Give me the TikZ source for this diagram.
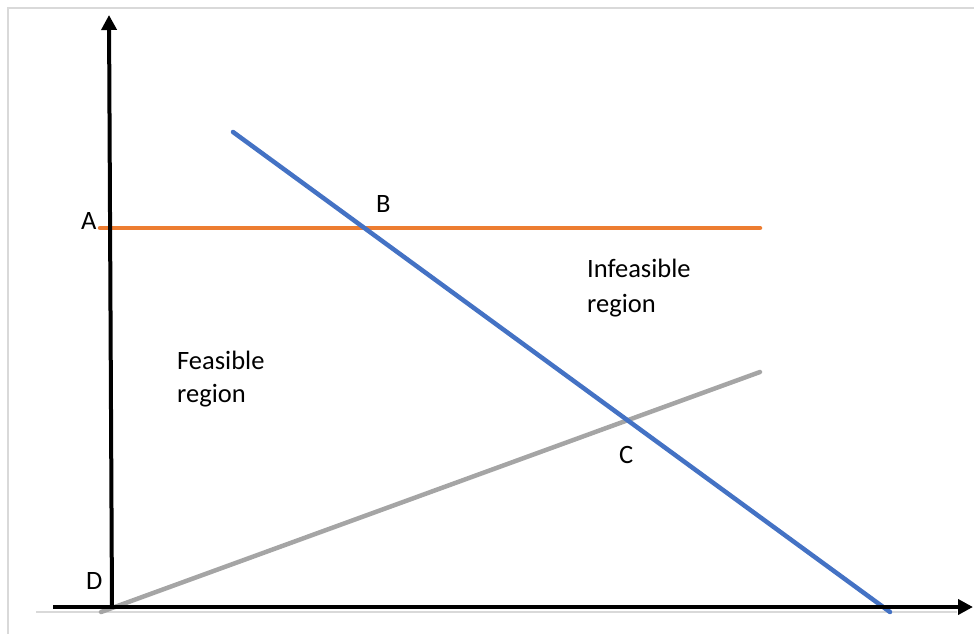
\documentclass[tikz,border=0pt]{standalone}
\usepackage{fontspec}
\setmainfont{Carlito}
\usetikzlibrary{arrows.meta}
\definecolor{frameg}{HTML}{D9D9D9}
\definecolor{lorange}{HTML}{ED7D31}
\definecolor{lblue}{HTML}{4472C4}
\definecolor{lgray}{HTML}{A5A5A5}
\begin{document}
\begin{tikzpicture}[x=1pt,y=-1pt,
  framel/.style={draw=frameg,line width=1.3pt},
  axisl/.style={draw=black,line width=4pt,-{Triangle[length=15pt,width=15pt]}},
  cline/.style={line width=4.5pt,line cap=round},
  lbl/.style={anchor=base west,inner sep=0pt,font=\fontsize{26.5}{34}\selectfont},
  region/.style={lbl,align=left}]
\useasboundingbox (0,0) rectangle (974,634);
% frame
\coordinate (f1) at (8,8);
\coordinate (f2) at (974,8);
\coordinate (f3) at (8,634);
\coordinate (f4) at (36,612);
\coordinate (f5) at (957,612);
\draw[framel] (f2) -- (f1) -- (f3);
\draw[framel] (f4) -- (f5);
% lines
\coordinate (a1) at (100,228);
\coordinate (a2) at (760,228);
\coordinate (b1) at (233,132);
\coordinate (b2) at (890,612);
\coordinate (g1) at (101,612);
\coordinate (g2) at (760,372);
\draw[cline,lorange] (a1) -- (a2);
\draw[cline,lgray] (g1) -- (g2);
\draw[cline,lblue] (b1) -- (b2);
% axes
\coordinate (o) at (112,607);
\coordinate (xs) at (53,607);
\coordinate (xe) at (973,607);
\coordinate (ye) at (109,15);
\draw[axisl] (o) -- (ye);
\draw[axisl] (xs) -- (xe);
% labels
\node[lbl] (lA) at (81,229) {A};
\node[lbl] (lB) at (376,212) {B};
\node[lbl] (lC) at (619,463) {C};
\node[lbl] (lD) at (86,589) {D};
\node[lbl] (feas) at (177,369) {Feasible};
\node[lbl] (feas2) at (177,402) {region};
\node[lbl] (inf) at (587,277) {Infeasible};
\node[lbl] (inf2) at (587,312) {region};
\end{tikzpicture}
\end{document}
